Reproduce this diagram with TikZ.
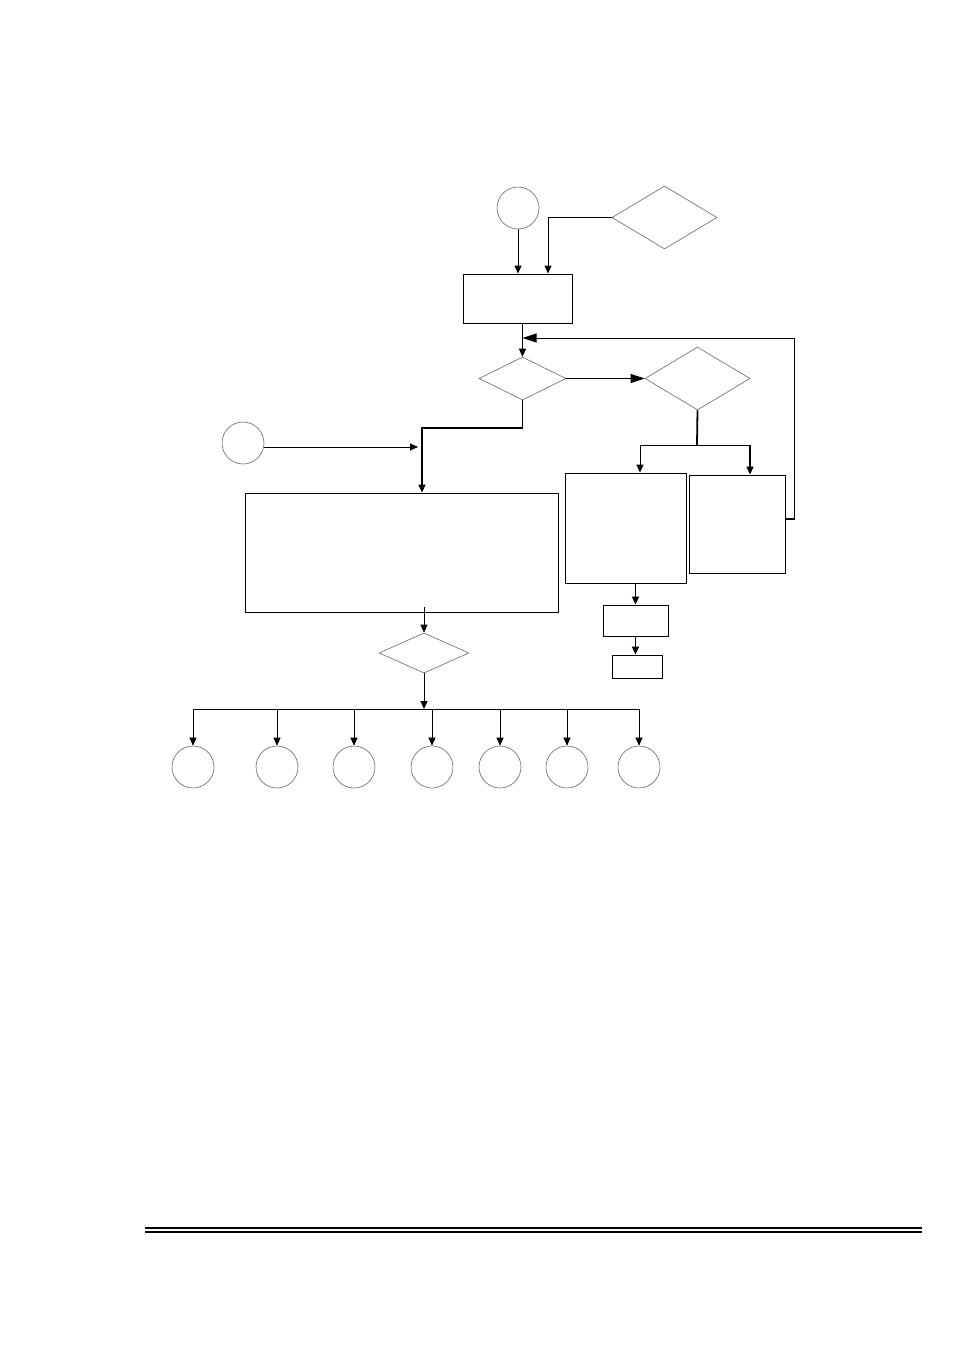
\documentclass[tikz,border=0pt]{standalone}
\usetikzlibrary{shapes.geometric,arrows.meta}
\begin{document}
\begin{tikzpicture}[x=1pt,y=-1pt,
  boxn/.style={draw=black,line width=0.9pt,rectangle,inner sep=0pt},
  circn/.style={draw=black!60,line width=0.6pt,circle,inner sep=0pt,minimum size=42pt},
  decn/.style={draw=black!60,line width=0.6pt,diamond,inner sep=0pt},
  conn/.style={line width=0.9pt},
  thickconn/.style={line width=1.8pt},
  arr/.style={conn,-{Triangle[length=8pt,width=7pt]}},
  tarr/.style={thickconn,-{Triangle[length=8pt,width=7pt]}},
  bigarr/.style={conn,-{Triangle[length=14pt,width=9pt]}}]
\useasboundingbox (0,0) rectangle (954,1350);
% nodes
\node[circn] (c0) at (518,208) {};
\node[decn,minimum width=105pt,minimum height=63pt] (d1) at (664.5,217.5) {};
\node[boxn,minimum width=109pt,minimum height=49pt] (b1) at (517.5,298.5) {};
\node[decn,minimum width=87pt,minimum height=43pt] (d2) at (522.5,378.5) {};
\node[decn,minimum width=105pt,minimum height=63pt] (d3) at (697.5,378.5) {};
\node[circn] (c1) at (243,443) {};
\node[boxn,minimum width=313pt,minimum height=119pt] (big) at (401.5,552.5) {};
\node[boxn,minimum width=121pt,minimum height=110pt] (bA) at (625.5,528) {};
\node[boxn,minimum width=96pt,minimum height=98pt] (bB) at (737,524) {};
\node[boxn,minimum width=65pt,minimum height=31pt] (bC) at (635.5,620.5) {};
\node[boxn,minimum width=50pt,minimum height=23pt] (bD) at (637,666.5) {};
\node[decn,minimum width=90pt,minimum height=40pt] (d4) at (424,653) {};
\foreach \i/\x in {1/193,2/277,3/354,4/432,5/500,6/567,7/639}{
  \node[circn] (e\i) at (\x,767) {};
}
% coordinates
\coordinate (loopc) at (794,338);
\coordinate (split) at (697,445);
\coordinate (splitR) at (750,445);
\coordinate (c1end) at (418,447);
\coordinate (busL) at (193,709);
\coordinate (busR) at (639,709);
% connectors
\draw[arr] (c0.south) -- (c0.south |- b1.north);
\draw[arr] (d1.west) -| ([xshift=30.5pt]b1.north);
\draw[arr] (b1.south -| d2.north) -- (d2.north);
\draw[thickconn] ([yshift=5pt]bB.east) -- ++(9,0);
\draw[bigarr] ([yshift=5pt]bB.east) -| (loopc) -- (loopc -| d2.north);
\draw[bigarr] (d2.east) -- (d3.west);
\draw[thickconn] (d3.south) -- (split);
\draw[arr] (split) -| ([xshift=14.5pt]bA.north);
\draw[conn] (split) -- (splitR);
\draw[tarr] (splitR) -- (splitR |- bB.north);
\draw[tarr] (bA.south -| bC.north) -- (bC.north);
\draw[tarr] (bC.south) -- (bC.south |- bD.north);
\draw[tarr] (d2.south) -- ++(0,28) -| ([xshift=20.5pt]big.north);
\draw[arr] ([yshift=-4pt]c1.east) -- (c1end);
\draw[arr] ([yshift=5pt]big.south -| d4.north) -- (d4.north);
\draw[arr] (d4.south) -- (d4.south |- busL);
\draw[conn] (busL) -- (busR);
\foreach \i in {1,...,7}{
  \draw[arr] (e\i.north |- busL) -- (e\i.north);
}
% bottom rule
\draw[line width=1.6pt] (145,1228) -- (922,1228);
\draw[line width=1.6pt] (145,1231.8) -- (922,1231.8);
\end{tikzpicture}
\end{document}
